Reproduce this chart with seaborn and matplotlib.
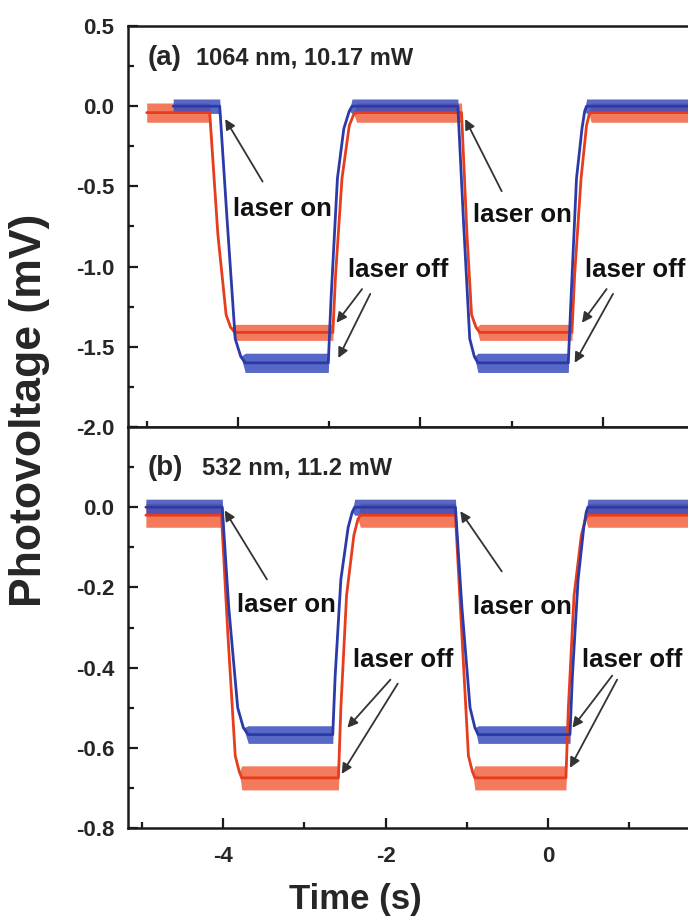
import numpy as np
import pandas as pd
import seaborn as sns
import matplotlib.pyplot as plt
from matplotlib.ticker import MultipleLocator, FuncFormatter

# ---------------- data ----------------
# (a) 1064 nm, 10.17 mW  -- time axis of panel (a)
a_red_t = [-5.00, -4.31, -4.22, -4.13, -4.08, -4.03, -2.96, -2.93, -2.86, -2.78, -2.73, -2.70,
           -1.55, -1.49, -1.44, -1.39, -1.35, -0.34, -0.31, -0.24, -0.18, -0.15, -0.13, 1.20]
a_red_v = [-0.04, -0.04, -0.80, -1.30, -1.38, -1.41, -1.41, -1.05, -0.45, -0.12, -0.05, -0.04,
           -0.04, -0.80, -1.30, -1.38, -1.41, -1.41, -1.05, -0.45, -0.12, -0.05, -0.04, -0.04]
a_blue_t = [-4.71, -4.20, -4.12, -4.03, -3.97, -3.92, -3.01, -2.98, -2.91, -2.84, -2.78, -2.75,
            -1.59, -1.53, -1.46, -1.41, -1.37, -0.38, -0.35, -0.29, -0.23, -0.20, -0.18, 1.20]
a_blue_v = [0.00, 0.00, -0.70, -1.45, -1.56, -1.60, -1.60, -1.20, -0.45, -0.14, -0.03, 0.00,
            0.00, -0.70, -1.45, -1.56, -1.60, -1.60, -1.20, -0.45, -0.14, -0.03, 0.00, 0.00]

# (b) 532 nm, 11.2 mW  -- time axis of panel (b)
b_red_t = [-4.95, -4.02, -3.94, -3.85, -3.80, -3.77, -2.58, -2.55, -2.48, -2.39, -2.34, -2.31,
           -1.14, -1.06, -0.98, -0.93, -0.90, 0.22, 0.25, 0.32, 0.41, 0.46, 0.49, 2.05]
b_red_v = [-0.02, -0.02, -0.32, -0.62, -0.66, -0.675, -0.675, -0.50, -0.22, -0.07, -0.03, -0.02,
           -0.02, -0.32, -0.62, -0.66, -0.675, -0.675, -0.50, -0.22, -0.07, -0.03, -0.02, -0.02]
b_blue_t = [-4.95, -4.01, -3.93, -3.82, -3.75, -3.69, -2.65, -2.62, -2.55, -2.46, -2.41, -2.38,
            -1.14, -1.06, -0.96, -0.90, -0.86, 0.27, 0.30, 0.37, 0.44, 0.47, 0.49, 2.05]
b_blue_v = [0.0, 0.0, -0.25, -0.50, -0.55, -0.567, -0.567, -0.42, -0.18, -0.05, -0.012, 0.0,
            0.0, -0.25, -0.50, -0.55, -0.567, -0.567, -0.42, -0.18, -0.05, -0.012, 0.0, 0.0]

# noise half-width on the dark level and on the illuminated level
a_red_noise = (0.06, 0.05)
a_blue_noise = (0.045, 0.06)
b_red_noise = (0.03, 0.03)
b_blue_noise = (0.02, 0.022)

panel_a_label = ("(a)", "1064 nm, 10.17 mW")
panel_b_label = ("(b)", "532 nm, 11.2 mW")

RED, RED_BAND = "#e63d1d", "#f2633f"
BLUE, BLUE_BAND = "#2b3aa9", "#3a4dbd"

# ---------------- style ----------------
sns.set_theme(style="ticks")
plt.rcParams["font.family"] = ["Liberation Sans", "DejaVu Sans"]
plt.rcParams["font.weight"] = "bold"
plt.rcParams["axes.unicode_minus"] = False

fig = plt.figure(figsize=(6.88, 9.22), dpi=100)
ax_a = fig.add_axes([0.18605, 0.53688, 0.84884, 0.43492])
ax_b = fig.add_axes([0.18605, 0.10195, 0.84884, 0.43492])


def draw_trace(ax, t, v, noise, core, band):
    t = np.asarray(t, float)
    v = np.asarray(v, float)
    hi, lo = v.max(), v.min()
    w = np.where(np.isclose(v, hi), noise[0], np.where(np.isclose(v, lo), noise[1], 0.0))
    ax.fill_between(t, v - w, v + w, color=band, lw=0, alpha=0.85)
    df = pd.DataFrame({"t": t, "v": v})
    sns.lineplot(data=df, x="t", y="v", ax=ax, color=core, lw=2.0,
                 sort=False, estimator=None)


draw_trace(ax_a, a_red_t, a_red_v, a_red_noise, RED, RED_BAND)
draw_trace(ax_a, a_blue_t, a_blue_v, a_blue_noise, BLUE, BLUE_BAND)
draw_trace(ax_b, b_red_t, b_red_v, b_red_noise, RED, RED_BAND)
draw_trace(ax_b, b_blue_t, b_blue_v, b_blue_noise, BLUE, BLUE_BAND)

ax_a.set_xlim(-5.205, 1.195)
ax_a.set_ylim(-2.0, 0.5)
ax_b.set_xlim(-5.17, 2.018)
ax_b.set_ylim(-0.8, 0.2)

for ax in (ax_a, ax_b):
    ax.set_xlabel("")
    ax.set_ylabel("")
    for s in ax.spines.values():
        s.set_linewidth(1.8)
        s.set_color("#1a1a1a")
    ax.xaxis.set_major_locator(MultipleLocator(2))
    ax.xaxis.set_minor_locator(MultipleLocator(1))
    ax.tick_params(which="both", direction="in", top=False, right=False,
                   color="#1a1a1a", width=1.6)
    ax.tick_params(which="major", length=7)
    ax.tick_params(which="minor", length=4)
    ax.tick_params(axis="y", labelsize=16, pad=10)
    ax.tick_params(axis="x", labelsize=16, pad=13)

ax_a.yaxis.set_major_locator(MultipleLocator(0.5))
ax_a.yaxis.set_minor_locator(MultipleLocator(0.25))
ax_a.yaxis.set_major_formatter(FuncFormatter(lambda v, p: f"{v:.1f}"))
ax_a.tick_params(axis="x", labelbottom=False)

ax_b.yaxis.set_major_locator(MultipleLocator(0.2))
ax_b.yaxis.set_minor_locator(MultipleLocator(0.1))
ax_b.yaxis.set_major_formatter(FuncFormatter(lambda v, p: "" if v > 0.05 else f"{v:.1f}"))
ax_b.set_xticks([-4, -2, 0])
ax_b.xaxis.set_major_formatter(FuncFormatter(lambda v, p: f"{v:.0f}"))

# ---------------- annotations ----------------
arrow_kw = dict(arrowstyle="-|>", color="#333333", lw=1.3, mutation_scale=15,
                shrinkA=0, shrinkB=0)
txt_kw = dict(fontsize=18.5, fontweight="bold", ha="center", va="center", color="#111111")

# panel (a)
ax_a.text(-3.51, -0.64, "laser on", **txt_kw)
ax_a.text(-0.88, -0.68, "laser on", **txt_kw)
ax_a.text(-2.24, -1.02, "laser off", **txt_kw)
ax_a.text(0.35, -1.02, "laser off", **txt_kw)
for tail, head in [((-3.73, -0.47), (-4.14, -0.08)),
                   ((-1.11, -0.53), (-1.51, -0.08)),
                   ((-2.64, -1.14), (-2.92, -1.35)),
                   ((-2.55, -1.17), (-2.90, -1.57)),
                   ((0.04, -1.14), (-0.23, -1.35)),
                   ((0.11, -1.17), (-0.31, -1.60))]:
    ax_a.annotate("", xy=head, xytext=tail, arrowprops=arrow_kw)

# panel (b)
ax_b.text(-3.22, -0.245, "laser on", **txt_kw)
ax_b.text(-0.32, -0.25, "laser on", **txt_kw)
ax_b.text(-1.78, -0.38, "laser off", **txt_kw)
ax_b.text(1.03, -0.38, "laser off", **txt_kw)
for tail, head in [((-3.46, -0.18), (-3.98, -0.008)),
                   ((-0.57, -0.16), (-1.08, -0.01)),
                   ((-1.94, -0.43), (-2.47, -0.55)),
                   ((-1.85, -0.44), (-2.54, -0.665)),
                   ((0.79, -0.42), (0.30, -0.55)),
                   ((0.85, -0.43), (0.27, -0.65))]:
    ax_b.annotate("", xy=head, xytext=tail, arrowprops=arrow_kw)

# panel titles
W, H = 688, 922
fig.text(148 / W, 1 - 65 / H, panel_a_label[0], fontsize=20, fontweight="bold", va="baseline")
fig.text(196 / W, 1 - 65 / H, panel_a_label[1], fontsize=17, fontweight="bold", va="baseline")
fig.text(148 / W, 1 - 475 / H, panel_b_label[0], fontsize=20, fontweight="bold", va="baseline")
fig.text(202 / W, 1 - 475 / H, panel_b_label[1], fontsize=17, fontweight="bold", va="baseline")

# axis titles
fig.text(30 / W, 1 - 410 / H, "Photovoltage (mV)", rotation=90, fontsize=32,
         fontweight="bold", ha="center", va="center")
fig.text(355 / W, 1 - 899 / H, "Time (s)", fontsize=25, fontweight="bold",
         ha="center", va="center")

fig.savefig("out.png", dpi=100, facecolor="white")
